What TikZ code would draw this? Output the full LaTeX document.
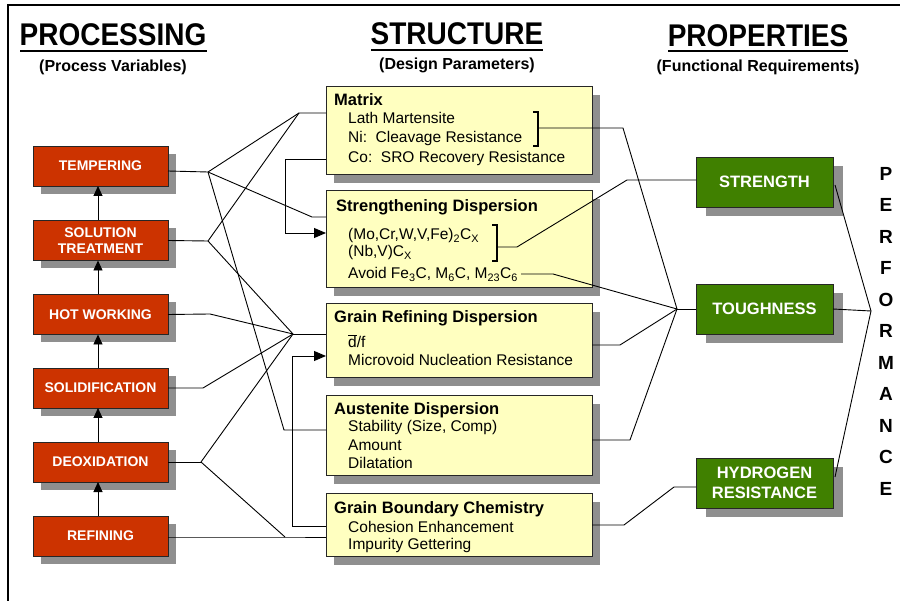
\documentclass[tikz,border=0pt]{standalone}
\usepackage{fontspec}
\setmainfont{Liberation Sans}
\usetikzlibrary{arrows.meta,shadows}
\definecolor{redbox}{RGB}{204,51,0}
\definecolor{greenbox}{RGB}{64,128,0}
\definecolor{yelbox}{RGB}{255,255,192}
\definecolor{shadowgray}{RGB}{143,143,143}
\tikzset{
  boxbase/.style={draw=black!85, line width=0.8pt, inner sep=0pt, outer sep=0pt},
  redb/.style={boxbase, fill=redbox, minimum width=135pt, minimum height=40pt, text=white, align=center, font=\bfseries\fontsize{14}{16}\selectfont, general shadow={fill=shadowgray, shadow xshift=8pt, shadow yshift=-8pt}},
  greenb/.style={boxbase, fill=greenbox, minimum width=137pt, minimum height=50pt, text=white, align=center, font=\bfseries\fontsize{16.5}{19.5}\selectfont, general shadow={fill=shadowgray, shadow xshift=10pt, shadow yshift=-9pt}},
  yelb/.style={boxbase, fill=yelbox, minimum width=266pt, general shadow={fill=shadowgray, shadow xshift=8pt, shadow yshift=-9pt}},
  ytitle/.style={anchor=base west, inner sep=0pt, font=\bfseries\fontsize{16.5}{18}\selectfont},
  yitem/.style={anchor=base west, inner sep=0pt, font=\fontsize{15.5}{17}\selectfont},
  headt/.style={inner sep=0pt, font=\bfseries\fontsize{28}{30}\selectfont},
  subt/.style={anchor=base, inner sep=0pt, font=\bfseries\fontsize{16}{18}\selectfont},
  perf/.style={inner sep=0pt, font=\bfseries\fontsize{19}{21}\selectfont},
  conn/.style={draw=black, line width=0.9pt},
  uparr/.style={conn, -{Triangle[width=9pt,length=10pt]}},
  inarr/.style={conn, -{Triangle[width=10pt,length=12pt]}},
  brk/.style={draw=black, line width=1.6pt},
  uline/.style={draw=black, line width=2pt},
}
\begin{document}
\begin{tikzpicture}[x=1pt,y=-1pt]
\useasboundingbox (0,0) rectangle (900,601);
\fill[white] (0,0) rectangle (900,601);
% frame
\draw[line width=1.5pt] (8,601) -- (8,5) -- (900,5);

% headings
\node[headt] (hP) at (113,34.5) {\scalebox{1}[1.12]{PROCESSING}};
\draw[uline] (20,51) -- (207,51);
\node[subt] (sP) at (113,72) {(Process Variables)};
\node[headt] (hS) at (457,33.5) {\scalebox{1}[1.12]{STRUCTURE}};
\draw[uline] (371,50) -- (543,50);
\node[subt] (sS) at (457,70) {(Design Parameters)};
\node[headt] (hR) at (758,36) {\scalebox{1}[1.12]{PROPERTIES}};
\draw[uline] (668,51) -- (848,51);
\node[subt] (sR) at (758,72) {(Functional Requirements)};

% processing boxes
\node[redb] (temp) at (100.5,166) {TEMPERING};
\node[redb] (sol) at (100.5,240.5) {SOLUTION\\TREATMENT};
\node[redb] (hot) at (100.5,314.5) {HOT WORKING};
\node[redb] (solid) at (100.5,388) {SOLIDIFICATION};
\node[redb] (deox) at (100.5,462) {DEOXIDATION};
\node[redb] (ref) at (100.5,536) {REFINING};

\draw[uparr] ([xshift=-2.5pt]sol.north) -- ([xshift=-2.5pt]temp.south);
\draw[uparr] ([xshift=-2.5pt]hot.north) -- ([xshift=-2.5pt]sol.south);
\draw[uparr] ([xshift=-2.5pt]solid.north) -- ([xshift=-2.5pt]hot.south);
\draw[uparr] ([xshift=-2.5pt]deox.north) -- ([xshift=-2.5pt]solid.south);
\draw[uparr] ([xshift=-2.5pt]ref.north) -- ([xshift=-2.5pt]deox.south);

% structure boxes
\node[yelb, minimum height=88pt] (mat) at (459,130) {};
\node[yelb, minimum height=97pt] (str) at (459,238.5) {};
\node[yelb, minimum height=74pt] (gr) at (459,340) {};
\node[yelb, minimum height=80pt] (aus) at (459,435) {};
\node[yelb, minimum height=63pt] (gbc) at (459,524.5) {};

\node[ytitle] (m0) at (334,106) {Matrix};
\node[yitem] (m1) at (348,124) {Lath Martensite};
\node[yitem] (m2) at (348,143) {Ni:\ \ Cleavage Resistance};
\node[yitem] (m3) at (348,163) {Co:\ \ SRO Recovery Resistance};

\node[ytitle] (s0) at (336,212) {Strengthening Dispersion};
\node[yitem] (s1) at (348,240) {(Mo,Cr,W,V,Fe)\textsubscript{2}C\textsubscript{X}};
\node[yitem] (s2) at (348,257) {(Nb,V)C\textsubscript{X}};
\node[yitem] (av) at (348,279) {Avoid Fe\textsubscript{3}C, M\textsubscript{6}C, M\textsubscript{23}C\textsubscript{6}};

\node[ytitle] (g0) at (334,323) {Grain Refining Dispersion};
\node[yitem] (g1) at (348,348) {$\overline{\mbox{d}}$/f};
\node[yitem] (g2) at (348,366) {Microvoid Nucleation Resistance};

\node[ytitle] (a0) at (334,415) {Austenite Dispersion};
\node[yitem] (a1) at (348,432) {Stability (Size, Comp)};
\node[yitem] (a2) at (348,451) {Amount};
\node[yitem] (a3) at (348,469) {Dilatation};

\node[ytitle] (b0) at (334,514) {Grain Boundary Chemistry};
\node[yitem] (b1) at (348,532) {Cohesion Enhancement};
\node[yitem] (b2) at (348,549) {Impurity Gettering};

% brackets
\draw[brk] (533,112) -- (538,112) -- (538,146) -- (533,146);
\coordinate (mb) at (538,128);
\draw[brk] (492,225) -- (497,225) -- (497,261) -- (492,261);
\coordinate (sb) at (497,247);

% property boxes
\node[greenb] (stren) at (764.5,182) {STRENGTH};
\node[greenb] (tough) at (764.5,309) {TOUGHNESS};
\node[greenb] (hyd) at (764.5,483) {HYDROGEN\\RESISTANCE};

\foreach \l [count=\i from 0] in {P,E,R,F,O,R,M,A,N,C,E}
  \node[perf] (pf\i) at (886,{173.5+31.55*\i}) {\l};

% left network
\coordinate (vT) at (208,172);
\coordinate (vS) at (208,241);
\coordinate (vG) at (293,334);
\coordinate (vD) at (201,462);
\coordinate (mA) at (299,113);
\coordinate (sA) at (312,217);
\coordinate (aA) at (284,430);
\coordinate (bA) at (285,537);
\coordinate (hA) at (210,314);
\coordinate (dA) at (203,388);

\draw[conn] ([yshift=-5pt]temp.east) -- (vT);
\draw[conn] (vT) -- (mA) -- (mA -| mat.west);
\draw[conn] (vT) -- (sA) -- (sA -| str.west);
\draw[conn] (vT) -- (aA) -- (aA -| aus.west);
\draw[conn] (sol.east) -- (vS);
\draw[conn] (vS) -- (mA);
\draw[conn] (vS) -- (vG);
\draw[conn] (hot.east) -- (hA) -- (vG);
\draw[conn] (solid.east) -- (dA) -- (vG);
\draw[conn] (vG) -- (vG -| gr.west);
\draw[conn] (deox.east) -- (vD);
\draw[conn] (vD) -- (vG);
\draw[conn] (vD) -- (bA);
\draw[conn] ([yshift=-1pt]ref.east) -- (bA) -- (bA -| gbc.west);

\coordinate (lA) at (285,159);
\coordinate (lB) at (285,233);
\draw[inarr] (lA -| mat.west) -- (lA) -- (lB) -- (lB -| str.west);
\coordinate (lC) at (292,526);
\coordinate (lD) at (292,356);
\draw[inarr] (lC -| gbc.west) -- (lC) -- (lD) -- (lD -| gr.west);

% right network
\coordinate (vTo) at (677,309);
\coordinate (rM) at (623,128);
\coordinate (rS1) at (517,247);
\coordinate (rS2) at (627,180);
\coordinate (rAv) at (553,274);
\coordinate (rG) at (620,345);
\coordinate (rAu) at (630,440);
\coordinate (rB1) at (624,525);
\coordinate (rB2) at (674,487);
\draw[conn] (mb) -- (rM) -- (vTo);
\draw[conn] (sb) -- (rS1) -- (rS2) -- (rS2 -| stren.west);
\draw[conn] ([shift={(3pt,5pt)}]av.base east) -- (rAv) -- (vTo);
\draw[conn] (rG -| gr.east) -- (rG) -- (vTo);
\draw[conn] (rAu -| aus.east) -- (rAu) -- (vTo);
\draw[conn] (rB1 -| gbc.east) -- (rB1) -- (rB2) -- (rB2 -| hyd.west);
\draw[conn] (vTo) -- (tough.west);

\coordinate (vP) at (871,311);
\draw[conn] ([shift={(2pt,-3pt)}]stren.east) -- (vP);
\draw[conn] (tough.east) -- (vP);
\draw[conn] ([shift={(2pt,6pt)}]hyd.east) -- (vP);
\end{tikzpicture}
\end{document}
